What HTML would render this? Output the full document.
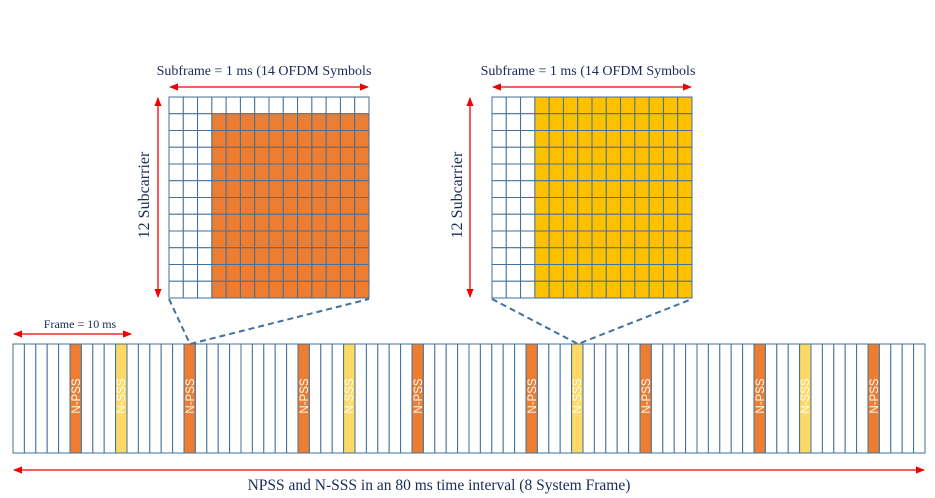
<!DOCTYPE html>
<html><head><style>body{margin:0;background:#fff}svg{display:block}</style></head><body>
<svg id="s" width="935" height="498" xmlns="http://www.w3.org/2000/svg" font-family="Liberation Serif, serif">
<defs>
<marker id="a" viewBox="0 0 10 10" refX="9" refY="5" markerWidth="7" markerHeight="7" orient="auto-start-reverse"><path d="M0,1 L10,5 L0,9 z" fill="#e00"/></marker>
</defs>
<g id="cells"></g>
<g stroke="#e00" stroke-width="1.3" marker-start="url(#a)" marker-end="url(#a)">
<line x1="170" y1="87" x2="368" y2="87"/>
<line x1="493" y1="87" x2="691" y2="87"/>
<line x1="158" y1="98" x2="158" y2="297"/>
<line x1="470" y1="98" x2="470" y2="297"/>
<line x1="14" y1="334" x2="131" y2="334"/>
<line x1="14" y1="470" x2="924" y2="470"/>
</g>
<g stroke="#41719C" stroke-width="2" stroke-dasharray="6,4" fill="none">
<polyline points="169,299 190,344 369,299"/>
<polyline points="492,299 578,344 692,299"/>
</g>
<g fill="#1A2A5A" font-size="14">
<text x="264" y="75" text-anchor="middle">Subframe = 1 ms (14 OFDM Symbols</text>
<text x="588" y="75" text-anchor="middle">Subframe = 1 ms (14 OFDM Symbols</text>
<text x="80" y="328" text-anchor="middle" font-size="12">Frame = 10 ms</text>
<text x="439" y="490" text-anchor="middle" font-size="15.5">NPSS and N-SSS in an 80 ms time interval (8 System Frame)</text>
<text transform="translate(149,195) rotate(-90)" text-anchor="middle" font-size="16">12 Subcarrier</text>
<text transform="translate(462,195) rotate(-90)" text-anchor="middle" font-size="16">12 Subcarrier</text>
</g>
<g fill="#fff" font-family="Liberation Sans, sans-serif" font-size="11.5" text-anchor="middle">
<text transform="translate(80,396) rotate(-90)">N-PSS</text>
<text transform="translate(125,396) rotate(-90)">N-SSS</text>
<text transform="translate(194,396) rotate(-90)">N-PSS</text>
<text transform="translate(308,396) rotate(-90)">N-PSS</text>
<text transform="translate(353,396) rotate(-90)">N-SSS</text>
<text transform="translate(422,396) rotate(-90)">N-PSS</text>
<text transform="translate(536,396) rotate(-90)">N-PSS</text>
<text transform="translate(581,396) rotate(-90)">N-SSS</text>
<text transform="translate(650,396) rotate(-90)">N-PSS</text>
<text transform="translate(764,396) rotate(-90)">N-PSS</text>
<text transform="translate(809,396) rotate(-90)">N-SSS</text>
<text transform="translate(878,396) rotate(-90)">N-PSS</text>
</g>
</svg>
<script>
var g=document.getElementById('cells'),h='';
function r(x,y,w,hh,f){h+='<rect x="'+x.toFixed(2)+'" y="'+y.toFixed(2)+'" width="'+w.toFixed(2)+'" height="'+hh.toFixed(2)+'" fill="'+f+'" stroke="#41719C" stroke-width="1"/>';}
var cw=200/14,rh=201/12;
for(var i=0;i<14;i++)for(var j=0;j<12;j++){
 r(169+i*cw,97+j*rh,cw,rh,(i>=3&&j>=1)?'#ED7D31':'#fff');
 r(492+i*cw,97+j*rh,cw,rh,(i>=3)?'#FFC000':'#fff');
}
var w=912/80;
for(var k=0;k<80;k++){var f='#fff',m=k%10,fr=Math.floor(k/10);
 if(m==5)f='#ED7D31'; if(m==9&&fr%2==0)f='#FFD966';
 r(13+k*w,344,w,109,f);}
g.innerHTML=h;
</script>
</body></html>
